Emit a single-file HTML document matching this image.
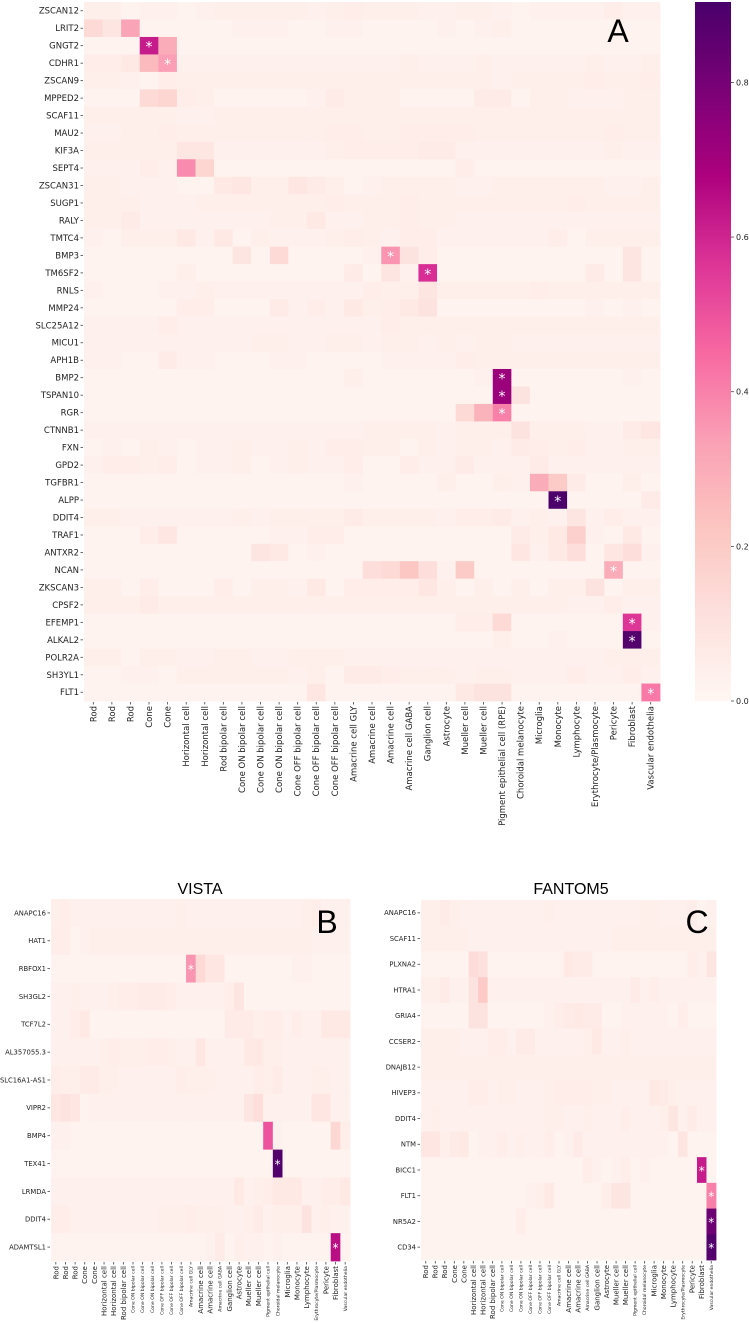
<!DOCTYPE html>
<html><head><meta charset="utf-8">
<style>
html,body{margin:0;padding:0;background:#fff;}
svg{display:block;font-family:"DejaVu Sans","Liberation Sans",sans-serif;}
</style></head>
<body>
<svg id="fig" width="749" height="1323" viewBox="0 0 749 1323" xmlns="http://www.w3.org/2000/svg">
<defs>
<linearGradient id="cbgrad" x1="0" y1="1" x2="0" y2="0">
<stop offset="0" stop-color="#fff7f3"/><stop offset="0.125" stop-color="#fde0dd"/><stop offset="0.25" stop-color="#fcc5c0"/><stop offset="0.375" stop-color="#fa9fb5"/><stop offset="0.5" stop-color="#f768a1"/><stop offset="0.625" stop-color="#dd3497"/><stop offset="0.75" stop-color="#ae017e"/><stop offset="0.875" stop-color="#7a0177"/><stop offset="1" stop-color="#49006a"/>
</linearGradient>
</defs>
<g id="panelA"></g>
<g id="panelB"></g>
<g id="panelC"></g>
<g id="cbar">
<rect x="695" y="2" width="36" height="699" fill="url(#cbgrad)"/>
</g>
<text x="618" y="42" font-size="32" text-anchor="middle" font-family="Liberation Sans, sans-serif">A</text>
<text x="200" y="894" font-size="16" text-anchor="middle" font-family="Liberation Sans, sans-serif">VISTA</text>
<text x="571" y="894" font-size="16" text-anchor="middle" font-family="Liberation Sans, sans-serif">FANTOM5</text>
<text x="327" y="933" font-size="32" text-anchor="middle" font-family="Liberation Sans, sans-serif">B</text>
<text x="697" y="933" font-size="32" text-anchor="middle" font-family="Liberation Sans, sans-serif">C</text>
</svg>
<script>
// ---------- data ----------
const genesA = ["ZSCAN12","LRIT2","GNGT2","CDHR1","ZSCAN9","MPPED2","SCAF11","MAU2","KIF3A","SEPT4","ZSCAN31","SUGP1","RALY","TMTC4","BMP3","TM6SF2","RNLS","MMP24","SLC25A12","MICU1","APH1B","BMP2","TSPAN10","RGR","CTNNB1","FXN","GPD2","TGFBR1","ALPP","DDIT4","TRAF1","ANTXR2","NCAN","ZKSCAN3","CPSF2","EFEMP1","ALKAL2","POLR2A","SH3YL1","FLT1"];
const cellsA = ["Rod","Rod","Rod","Cone","Cone","Horizontal cell","Horizontal cell","Rod bipolar cell","Cone ON bipolar cell","Cone ON bipolar cell","Cone ON bipolar cell","Cone OFF bipolar cell","Cone OFF bipolar cell","Cone OFF bipolar cell","Amacrine cell GLY","Amacrine cell","Amacrine cell","Amacrine cell GABA","Ganglion cell","Astrocyte","Mueller cell","Mueller cell","Pigment epithelial cell (RPE)","Choroidal melanocyte","Microglia","Monocyte","Lymphocyte","Erythrocyte/Plasmocyte","Pericyte","Fibroblast","Vascular endothelia"];
// values in hundredths
const valuesA = [
[4,4,2,3,3,2,3,4,4,4,4,4,3,4,5,4,4,4,3,3,4,4,3,2,3,3,3,3,5,3,3],
[14,9,32,2,2,2,2,2,3,3,3,2,2,3,3,2,2,2,2,3,2,3,4,2,2,2,2,2,2,2,2],
[2,2,2,62,30,2,2,2,2,2,2,2,2,2,2,2,2,2,2,2,2,2,2,2,2,2,2,2,2,2,2],
[5,5,7,26,34,3,3,3,3,3,3,3,3,3,3,3,3,4,3,3,3,4,3,3,3,3,3,4,3,3,4],
[4,4,3,2,5,4,4,4,4,4,4,4,4,4,4,4,4,4,4,4,4,4,3,4,4,4,4,5,4,4,5],
[2,2,2,14,16,5,4,2,2,2,2,2,3,6,4,4,4,2,2,2,2,6,6,2,4,4,3,3,3,4,4],
[4,4,4,4,4,3,3,4,4,4,4,4,4,4,4,4,4,4,4,4,4,4,4,4,4,4,4,4,4,4,4],
[3,3,4,4,5,4,4,4,4,4,4,4,4,5,5,4,4,5,5,5,5,4,4,4,4,4,4,4,5,4,4],
[4,4,4,4,4,8,8,3,3,3,3,3,3,4,5,5,5,5,6,6,3,3,3,3,3,3,3,3,4,3,3],
[3,3,3,5,3,38,16,2,2,2,2,2,2,2,2,2,2,2,2,2,5,2,2,2,2,2,2,2,2,2,2],
[4,4,3,3,3,2,2,7,8,4,4,8,6,4,2,3,4,4,4,4,3,3,4,4,4,4,4,4,3,3,4],
[4,4,4,3,3,3,4,4,4,4,4,4,4,5,4,4,4,5,4,4,4,4,4,4,4,4,5,4,4,4,4],
[4,4,6,3,3,3,3,3,3,3,4,4,7,3,3,4,4,5,4,4,3,3,3,3,3,3,3,3,3,3,3],
[3,2,4,4,4,7,3,7,2,4,3,3,3,4,5,4,3,5,5,3,3,3,3,3,3,5,2,4,4,4,4],
[2,2,2,2,2,2,2,2,9,2,14,2,2,2,2,3,36,10,5,2,2,2,2,2,2,2,2,2,2,9,2],
[2,2,2,2,2,4,2,2,2,2,2,2,2,2,6,2,9,3,58,2,2,2,2,2,2,2,2,6,2,9,2],
[3,2,2,2,3,3,4,3,3,3,3,3,3,3,3,5,4,4,9,4,4,4,4,4,5,4,4,4,4,4,4],
[2,2,2,2,2,5,5,2,2,2,6,3,5,3,7,4,5,7,10,2,2,2,2,2,2,2,2,3,2,3,2],
[3,3,3,3,5,3,3,3,3,3,3,3,3,3,3,3,5,4,4,4,4,4,4,4,4,4,4,4,4,4,4],
[3,3,3,3,3,3,3,3,3,4,4,3,3,4,4,3,4,4,3,4,3,4,4,3,3,3,3,3,3,3,3],
[3,3,2,2,6,3,3,2,2,2,3,3,2,2,2,2,3,3,3,3,5,4,4,4,4,4,4,4,4,4,4],
[2,2,2,2,2,2,2,2,2,2,2,2,2,2,4,2,2,2,2,2,2,3,72,2,2,2,2,2,2,3,2],
[2,2,2,2,2,2,2,2,2,2,2,2,2,2,2,2,2,2,2,2,2,2,72,10,2,2,2,2,2,2,2],
[2,2,2,2,2,2,2,2,2,2,2,2,2,2,2,2,2,2,2,2,14,28,40,2,2,2,2,2,2,2,2],
[3,3,3,3,3,3,3,3,3,3,3,3,3,3,3,4,4,4,4,3,4,4,4,10,4,4,4,3,3,6,8],
[2,3,2,4,3,2,3,3,4,3,3,4,3,5,5,4,4,2,4,3,4,4,3,6,5,4,5,3,3,4,4],
[3,5,5,4,5,2,3,3,4,2,3,4,3,3,5,2,2,5,3,3,6,3,3,3,6,3,3,3,3,3,3],
[2,2,2,2,2,2,2,2,2,2,2,2,2,2,3,2,2,2,2,4,2,2,4,3,30,20,6,2,2,4,2],
[2,2,2,2,2,2,2,2,2,2,2,2,2,2,2,2,2,2,2,2,2,2,2,2,2,90,2,2,2,2,6],
[4,4,3,3,3,3,3,3,4,3,4,4,4,4,6,4,4,4,4,3,5,5,6,3,4,3,9,3,5,3,3],
[2,2,2,5,8,2,2,2,2,2,3,3,5,5,2,2,2,2,2,2,2,2,2,6,4,7,18,3,2,7,2],
[2,2,2,2,2,2,2,2,2,9,7,2,3,2,2,2,2,2,2,2,2,2,2,8,3,7,12,2,8,12,3],
[2,2,2,2,2,2,2,2,2,2,2,2,2,2,2,12,14,22,12,3,20,2,2,2,2,2,2,2,30,2,2],
[4,4,2,5,2,2,2,5,2,4,4,3,7,2,5,5,5,5,8,4,2,4,2,4,2,4,4,10,2,4,4],
[4,4,4,6,4,4,4,4,4,4,4,4,4,4,4,4,4,4,4,4,4,4,4,4,4,4,3,3,5,3,3],
[2,2,2,2,2,2,2,2,2,2,2,2,2,2,2,2,2,2,2,2,5,5,14,2,2,2,2,2,2,56,3],
[2,2,2,2,2,2,2,2,2,2,2,2,2,2,2,2,2,2,2,2,2,2,4,2,2,3,2,2,2,88,2],
[4,4,2,4,4,3,3,4,4,3,3,4,4,4,3,3,3,3,3,3,3,3,3,3,3,3,3,3,4,4,4],
[2,2,3,3,2,4,4,4,4,4,4,3,4,2,6,6,5,4,4,4,3,4,4,3,3,3,5,3,3,5,3],
[2,2,2,2,2,2,2,2,2,2,2,2,8,2,2,2,2,2,2,2,7,10,10,2,2,2,2,2,2,2,42]
];
const starsA = [[2,3],[3,4],[14,16],[15,18],[21,22],[22,22],[23,22],[28,25],[32,28],[35,29],[36,29],[39,30]];

const genesB = ["ANAPC16","HAT1","RBFOX1","SH3GL2","TCF7L2","AL357055.3","SLC16A1-AS1","VIPR2","BMP4","TEX41","LRMDA","DDIT4","ADAMTSL1"];
const cellsBC = ["Rod","Rod","Rod","Cone","Cone","Horizontal cell","Horizontal cell","Rod bipolar cell","Cone ON bipolar cell","Cone ON bipolar cell","Cone ON bipolar cell","Cone OFF bipolar cell","Cone OFF bipolar cell","Cone OFF bipolar cell","Amacrine cell GLY","Amacrine cell","Amacrine cell","Amacrine cell GABA","Ganglion cell","Astrocyte","Mueller cell","Mueller cell","Pigment epithelial cell","Choroidal melanocyte","Microglia","Monocyte","Lymphocyte","Erythrocyte/Plasmocyte","Pericyte","Fibroblast","Vascular endothelia"];
const valuesB = [
[4,5,3,3,3,3,3,3,3,3,3,3,3,4,3,3,3,3,3,3,3,3,3,3,3,3,4,5,3,3,3],
[5,5,2,3,4,4,4,4,4,4,4,4,4,4,4,4,4,4,4,4,4,4,4,4,4,4,4,3,3,3,3],
[2,2,2,2,2,2,2,2,2,2,2,2,2,2,36,14,8,8,2,2,2,2,2,2,2,3,3,2,2,2,2],
[3,3,4,3,3,3,4,5,5,6,6,6,5,3,3,3,3,3,5,9,2,2,2,2,2,2,2,2,2,2,2],
[3,3,5,7,2,2,2,2,2,2,2,2,2,2,2,2,2,2,6,6,6,4,5,5,3,5,3,3,7,7,7],
[3,3,3,3,3,4,5,4,4,4,5,5,4,3,3,8,3,3,3,3,7,7,4,4,3,3,3,3,3,3,3],
[5,4,4,6,6,4,4,3,3,3,3,3,3,5,4,4,4,3,3,3,3,5,4,6,3,3,3,4,4,3,3],
[8,10,8,2,3,3,3,3,3,3,3,3,3,3,3,3,3,3,3,3,9,12,3,3,3,3,3,8,8,3,3],
[3,3,2,2,2,2,2,2,2,2,2,2,2,2,2,2,2,2,2,2,2,2,50,3,2,2,2,2,2,15,5],
[2,2,2,2,2,2,2,2,2,2,2,2,2,2,2,2,2,2,2,2,2,2,2,88,2,2,2,2,2,2,2],
[3,3,3,3,3,3,3,3,3,3,3,3,3,3,3,3,3,3,3,7,3,4,5,7,7,7,3,3,5,5,7],
[5,5,3,3,3,3,3,3,3,3,3,4,4,4,5,4,4,4,3,3,4,6,3,4,4,4,10,3,4,3,3],
[2,2,2,2,2,2,2,2,2,2,2,2,2,2,2,2,3,6,2,4,3,3,2,3,2,2,2,2,2,65,2]
];
const starsB = [[2,14],[9,23],[12,29]];

const genesC = ["ANAPC16","SCAF11","PLXNA2","HTRA1","GRIA4","CCSER2","DNAJB12","HIVEP3","DDIT4","NTM","BICC1","FLT1","NR5A2","CD34"];
const valuesC = [
[4,4,6,4,3,3,3,3,3,3,3,3,3,4,3,3,3,3,3,3,3,3,3,4,4,3,3,3,5,2,3],
[4,4,4,4,4,3,3,3,3,3,3,3,3,3,3,3,3,3,3,3,4,4,4,4,4,4,4,4,4,4,4],
[2,2,2,2,2,13,11,2,2,2,2,2,2,2,2,7,6,6,2,2,2,2,2,2,2,2,2,2,5,3,9],
[4,4,6,3,3,10,20,3,3,3,3,3,3,3,3,3,3,3,3,3,3,3,6,3,5,3,3,3,3,3,3],
[2,2,2,2,2,10,10,2,2,2,2,2,2,3,5,6,7,6,6,2,2,3,3,3,3,3,2,5,2,2,2],
[4,4,4,4,3,3,3,5,5,3,6,6,3,3,3,3,3,4,7,3,3,4,3,3,3,3,3,3,3,3,3],
[4,4,4,4,4,4,4,4,4,4,4,4,4,4,4,4,4,4,4,4,4,4,4,4,4,4,4,4,4,4,4],
[3,3,3,3,3,5,5,3,4,4,3,3,3,4,5,5,5,5,4,4,3,3,3,3,7,6,4,3,3,3,3],
[3,4,3,3,3,3,3,3,3,3,3,3,3,4,4,3,3,4,3,3,3,5,3,3,3,4,9,3,6,3,3],
[8,8,4,6,7,2,3,3,5,3,4,3,3,5,2,3,6,3,3,3,3,3,3,3,3,3,2,9,2,2,2],
[2,2,2,2,2,2,2,2,2,2,2,2,2,2,2,2,2,5,3,2,3,5,2,3,2,2,2,2,2,62,2],
[2,2,2,2,2,2,2,2,2,2,2,3,4,7,2,2,2,2,2,5,9,9,2,2,2,2,2,2,2,2,40],
[2,2,2,2,2,2,2,2,2,2,5,2,2,2,2,2,2,2,2,2,2,2,2,2,2,2,2,2,2,2,82],
[2,2,2,2,2,2,2,2,2,2,2,2,2,2,2,2,2,2,2,2,2,2,2,2,2,2,2,2,2,2,88]
];
const starsC = [[10,29],[11,30],[12,30],[13,30]];

const cbTicks = [0.0,0.2,0.4,0.6,0.8];
const cbTickLabels = ["0.0","0.2","0.4","0.6","0.8"];
const VMAX = 0.904;

// ---------- colormap ----------
const stops = ["#fff7f3","#fde0dd","#fcc5c0","#fa9fb5","#f768a1","#dd3497","#ae017e","#7a0177","#49006a"].map(h=>[parseInt(h.slice(1,3),16),parseInt(h.slice(3,5),16),parseInt(h.slice(5,7),16)]);
function color(v){
  let t=Math.max(0,Math.min(1,v/VMAX))*(stops.length-1);
  let i=Math.min(stops.length-2,Math.floor(t)),f=t-i;
  const c=stops[i].map((a,k)=>Math.round(a+(stops[i+1][k]-a)*f));
  return `rgb(${c[0]},${c[1]},${c[2]})`;
}
const NS="http://www.w3.org/2000/svg";
function mk(tag,attrs,parent){const e=document.createElementNS(NS,tag);for(const k in attrs)e.setAttribute(k,attrs[k]);parent.appendChild(e);return e;}

function drawPanel(g,genes,cells,vals,stars,box,o){
  const cw=(box.x1-box.x0)/cells.length, rh=(box.y1-box.y0)/genes.length;
  const xS=c=>box.x0+c*cw, yS=r=>box.y0+r*rh;
  vals.forEach((row,r)=>row.forEach((v,c)=>{
    const rc=mk('rect',{x:xS(c).toFixed(2),y:yS(r).toFixed(2),width:(cw+0.4).toFixed(2),height:(rh+0.4).toFixed(2),fill:color(v/100)},g);
    
    
  }));
  stars.forEach(([r,c])=>{
    const t=mk('text',{x:(xS(c)+cw/2).toFixed(2),y:(yS(r)+rh/2+o.starDy).toFixed(2),'font-size':o.starSize,fill:'#fff','text-anchor':'middle'},g);
    t.textContent='*';
    
    
  });
  genes.forEach((gname,r)=>{
    const y=yS(r)+rh/2;
    const t=mk('text',{x:box.x0-5,y:(y+o.yfs*0.35).toFixed(2),'font-size':o.yfs,'text-anchor':'end',fill:'#222'},g);
    t.textContent=gname;
    
    
    const l=mk('line',{x1:box.x0-3.5,x2:box.x0-1,y1:y,y2:y,stroke:'#444','stroke-width':0.8},g);
    
    
  });
  cells.forEach((cname,c)=>{
    const x=xS(c)+cw/2;
    const fs=(o.smallThresh && cname.length>o.smallThresh)?o.xfsSmall:o.xfs;
    const t=mk('text',{x:0,y:0,'font-size':fs,'text-anchor':'end',fill:'#222',transform:`translate(${(x+fs*0.35).toFixed(2)},${box.y1+5}) rotate(-90)`},g);
    t.textContent=cname;
    
    
    const l=mk('line',{x1:x,x2:x,y1:box.y1+1,y2:box.y1+3.5,stroke:'#444','stroke-width':0.8},g);
    
    
  });
}
drawPanel(document.getElementById('panelA'),genesA,cellsA,valuesA,starsA,{x0:84,x1:660,y0:2,y1:701},{yfs:8.5,xfs:8.5,starSize:14,starDy:6});
drawPanel(document.getElementById('panelB'),genesB,cellsBC,valuesB,starsB,{x0:51,x1:350,y0:899,y1:1261},{yfs:6.8,xfs:7,xfsSmall:4.6,smallThresh:16,starSize:12,starDy:5});
drawPanel(document.getElementById('panelC'),genesC,cellsBC,valuesC,starsC,{x0:421,x1:716,y0:900,y1:1260},{yfs:6.8,xfs:7,xfsSmall:4.6,smallThresh:16,starSize:12,starDy:5});

// colorbar ticks
const cb=document.getElementById('cbar');
const cbY=v=>701-(v/VMAX)*699;
cbTicks.forEach((v,i)=>{
  const y=cbY(v);
  const l=mk('line',{x1:731,x2:734,y1:y,y2:y,stroke:'#444','stroke-width':0.8},cb);
  
  
  const t=mk('text',{x:736,y:(y+3).toFixed(2),'font-size':8,fill:'#222'},cb);
  t.textContent=cbTickLabels[i];
  
  
});
</script>
</body></html>
